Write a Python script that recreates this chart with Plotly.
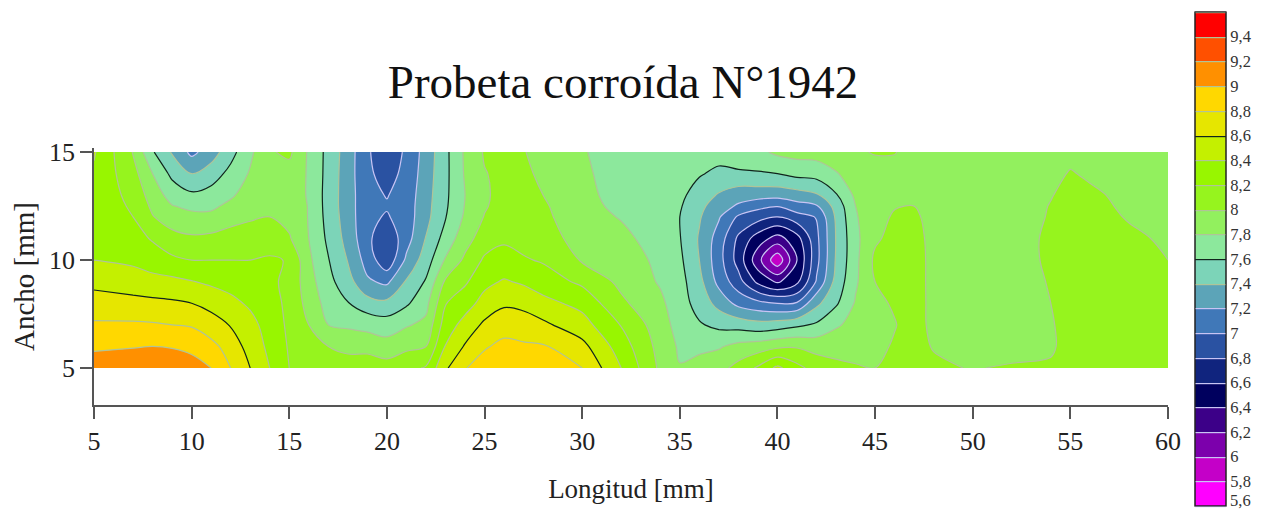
import numpy as np
import plotly.graph_objects as go

title_text = "Probeta corroída N°1942"
x_title = "Longitud [mm]"
y_title = "Ancho [mm]"
levels_cb = [round(5.6 + 0.2 * i, 1) for i in range(20)]
band_colors = ["#ff00ff", "#c400c8", "#7c00ac", "#3c0088", "#00005e", "#10247e", "#2a52a2", "#4078b8", "#5ca4b8", "#7cd4b8",
               "#8ce89c", "#92f05e", "#96f41e", "#98f600", "#c4f000", "#e6e600", "#ffd800", "#ff9000", "#ff5000", "#ff0000"]
line_light = "#c8c4f4"
line_gray = "#b0c498"
line_black = "#10241c"
black_levels = [7.6, 8.6]
light_top = 7.2

y_mm = [5, 6, 7, 8, 9, 10, 11, 12, 12.5, 13, 14, 15]
x_mm = [5, 7, 8, 9, 10, 11, 12, 13, 14, 15, 16, 17, 18, 19, 20, 21, 22, 23, 24, 25, 26, 27, 28, 30, 32, 34,
        35, 36, 37, 38, 39, 40, 41, 42, 43, 44, 45, 46, 47, 48, 50, 52, 54, 55, 56, 58, 60]
z_columns = [
    [9.1, 8.97, 8.83, 8.68, 8.55, 8.4, 8.36, 8.34, 8.34, 8.34, 8.37, 8.42],
    [9.12, 8.99, 8.83, 8.66, 8.5, 8.36, 8.28, 8.2, 8.17, 8.14, 8.07, 7.99],
    [9.13, 9.0, 8.82, 8.65, 8.46, 8.31, 8.18, 8.01, 7.96, 7.91, 7.8, 7.62],
    [9.1, 8.99, 8.8, 8.63, 8.45, 8.24, 8.07, 7.9, 7.81, 7.72, 7.55, 7.38],
    [9.05, 8.97, 8.78, 8.6, 8.41, 8.2, 8.03, 7.86, 7.75, 7.64, 7.4, 7.15],
    [9.0, 8.87, 8.67, 8.55, 8.36, 8.2, 8.05, 7.85, 7.76, 7.68, 7.5, 7.3],
    [8.8, 8.7, 8.59, 8.45, 8.33, 8.2, 8.08, 7.93, 7.85, 7.77, 7.66, 7.53],
    [8.6, 8.53, 8.46, 8.37, 8.28, 8.2, 8.08, 7.98, 7.94, 7.9, 7.82, 7.76],
    [8.4, 8.35, 8.32, 8.28, 8.24, 8.22, 8.12, 8.0, 7.97, 7.94, 7.92, 7.98],
    [8.2, 8.18, 8.16, 8.15, 8.15, 8.19, 8.02, 7.94, 7.92, 7.91, 7.92, 8.04],
    [8.15, 8.08, 8.0, 7.93, 7.88, 7.84, 7.8, 7.79, 7.79, 7.78, 7.78, 7.77],
    [8.1, 8.0, 7.8, 7.72, 7.66, 7.61, 7.56, 7.53, 7.52, 7.52, 7.53, 7.54],
    [8.13, 7.93, 7.77, 7.61, 7.48, 7.39, 7.33, 7.3, 7.29, 7.29, 7.29, 7.3],
    [8.15, 7.92, 7.74, 7.48, 7.23, 7.12, 7.05, 7.05, 7.06, 7.06, 7.04, 7.03],
    [8.09, 7.88, 7.7, 7.45, 7.16, 6.85, 6.84, 6.98, 7.02, 6.99, 6.92, 6.85],
    [8.14, 7.96, 7.78, 7.57, 7.42, 7.24, 7.12, 7.1, 7.1, 7.09, 7.06, 7.04],
    [8.22, 8.0, 7.85, 7.74, 7.62, 7.5, 7.41, 7.34, 7.33, 7.32, 7.3, 7.28],
    [8.57, 8.41, 8.3, 8.19, 8.03, 7.82, 7.68, 7.59, 7.57, 7.56, 7.55, 7.55],
    [8.79, 8.62, 8.47, 8.32, 8.17, 8.04, 7.92, 7.83, 7.81, 7.8, 7.82, 7.83],
    [8.89, 8.78, 8.64, 8.47, 8.35, 8.23, 8.1, 8.01, 7.98, 7.97, 7.99, 8.02],
    [8.96, 8.85, 8.72, 8.57, 8.42, 8.27, 8.17, 8.1, 8.08, 8.07, 8.05, 8.05],
    [8.97, 8.83, 8.69, 8.55, 8.37, 8.22, 8.13, 8.08, 8.06, 8.05, 8.03, 8.01],
    [8.95, 8.82, 8.64, 8.46, 8.3, 8.18, 8.1, 8.05, 8.03, 8.0, 7.97, 7.93],
    [8.8, 8.66, 8.48, 8.34, 8.16, 7.98, 7.91, 7.86, 7.84, 7.83, 7.82, 7.81],
    [8.4, 8.3, 8.19, 8.04, 7.95, 7.89, 7.84, 7.79, 7.77, 7.76, 7.75, 7.74],
    [7.96, 7.93, 7.89, 7.84, 7.78, 7.76, 7.73, 7.71, 7.7, 7.7, 7.69, 7.69],
    [7.81, 7.77, 7.72, 7.69, 7.67, 7.64, 7.61, 7.6, 7.62, 7.65, 7.67, 7.68],
    [7.85, 7.77, 7.62, 7.52, 7.46, 7.4, 7.38, 7.42, 7.45, 7.5, 7.62, 7.68],
    [7.93, 7.78, 7.55, 7.33, 7.14, 7.08, 7.11, 7.22, 7.3, 7.38, 7.55, 7.69],
    [8.07, 7.86, 7.52, 7.14, 6.88, 6.72, 6.76, 6.97, 7.17, 7.29, 7.56, 7.76],
    [8.23, 7.9, 7.47, 7.06, 6.55, 6.27, 6.5, 6.88, 7.06, 7.28, 7.58, 7.75],
    [8.45, 7.96, 7.5, 7.0, 6.37, 5.85, 6.32, 6.8, 7.01, 7.27, 7.6, 7.84],
    [8.26, 7.98, 7.56, 7.02, 6.55, 6.4, 6.52, 6.92, 7.12, 7.31, 7.66, 7.87],
    [8.12, 7.93, 7.63, 7.35, 7.02, 6.94, 6.95, 7.01, 7.18, 7.37, 7.68, 7.88],
    [8.07, 7.9, 7.78, 7.57, 7.47, 7.42, 7.41, 7.43, 7.47, 7.58, 7.78, 7.95],
    [8.02, 7.92, 7.85, 7.82, 7.77, 7.75, 7.75, 7.78, 7.8, 7.84, 7.92, 7.98],
    [8.0, 7.95, 7.93, 7.96, 8.0, 8.04, 7.97, 7.94, 7.93, 7.92, 7.94, 8.01],
    [8.03, 8.02, 7.99, 8.02, 8.06, 8.08, 8.06, 8.02, 7.99, 7.96, 7.92, 8.01],
    [8.06, 8.05, 8.08, 8.09, 8.1, 8.1, 8.08, 8.04, 8.0, 7.96, 7.92, 7.92],
    [8.03, 7.99, 7.95, 7.94, 7.93, 7.93, 7.93, 7.92, 7.91, 7.91, 7.9, 7.9],
    [7.99, 7.92, 7.9, 7.88, 7.87, 7.87, 7.87, 7.87, 7.87, 7.87, 7.87, 7.87],
    [8.02, 7.93, 7.9, 7.88, 7.87, 7.87, 7.88, 7.88, 7.88, 7.88, 7.88, 7.88],
    [8.03, 7.97, 7.98, 8.0, 8.02, 8.05, 8.05, 8.02, 8.01, 7.99, 7.92, 7.88],
    [8.09, 8.08, 8.08, 8.08, 8.08, 8.1, 8.1, 8.08, 8.07, 8.06, 8.02, 7.92],
    [8.1, 8.1, 8.1, 8.1, 8.1, 8.12, 8.12, 8.1, 8.08, 8.05, 7.96, 7.9],
    [8.12, 8.12, 8.12, 8.12, 8.12, 8.1, 8.05, 7.98, 7.95, 7.93, 7.9, 7.88],
    [8.12, 8.12, 8.12, 8.1, 8.05, 8.0, 7.96, 7.93, 7.92, 7.91, 7.88, 7.86],
]
z = np.array(z_columns).T

serif = "Liberation Serif"
z_lo, z_hi = 5.6, 9.6
n = len(band_colors)
fill_scale = []
for i, c in enumerate(band_colors):
    fill_scale.append([i / n, c])
    fill_scale.append([(i + 1) / n, c])

line_scale = []
for i in range(n + 1):
    v = round(z_lo + 0.2 * i, 1)
    c = line_black if v in black_levels else (line_light if v <= light_top else line_gray)
    a, b = max(0, (i - 0.5) / n), min(1, (i + 0.5) / n)
    line_scale.append([a, c])
    line_scale.append([b, c])

bar_common = dict(x=(1195 - 94) / 1074, xanchor="left", y=(405 - 506) / 257, yanchor="bottom",
                  lenmode="pixels", len=494, thicknessmode="pixels", thickness=31,
                  xpad=0, ypad=0, outlinecolor="#222", outlinewidth=1, ticks="")

fig = go.Figure()
fig.add_trace(go.Contour(
    x=x_mm, y=y_mm, z=z, zmin=z_lo, zmax=z_hi, colorscale=fill_scale,
    contours=dict(coloring="fill", start=z_lo, end=z_hi, size=0.2),
    line=dict(width=0, smoothing=1.0),
    colorbar=dict(**bar_common, tickmode="array", tickvals=levels_cb[1:],
                  ticktext=[f"{v:g}".replace(".", ",") for v in levels_cb[1:]],
                  tickfont=dict(family=serif, size=16.5, color="#333")),
    hoverinfo="skip", showlegend=False,
))
fig.add_trace(go.Contour(
    x=x_mm, y=y_mm, z=z, zmin=z_lo, zmax=z_hi, colorscale=line_scale,
    contours=dict(coloring="lines", start=z_lo, end=z_hi, size=0.2),
    line=dict(width=1.2, smoothing=1.0),
    colorbar=dict(**bar_common, showticklabels=False),
    hoverinfo="skip", showlegend=False,
))

axis_style = dict(showgrid=False, zeroline=False, showline=True, linecolor="#555", linewidth=1.5,
                  ticks="outside", tickcolor="#555", tickwidth=1.5,
                  tickfont=dict(family=serif, size=26, color="#222"))
fig.update_layout(
    width=1272, height=511, autosize=False, paper_bgcolor="white", plot_bgcolor="white", showlegend=False,
    margin=dict(l=94, r=104, t=148, b=106, autoexpand=False), separators=",.",
    title=dict(text=title_text, x=623 / 1272, xanchor="center", y=1 - 82 / 511, yanchor="middle",
               font=dict(family=serif, size=47, color="#111")),
    annotations=[dict(text="5,6", xref="paper", yref="paper", x=(1228 - 94) / 1074, y=(405 - 500) / 257,
                      xanchor="left", yanchor="middle", showarrow=False,
                      font=dict(family=serif, size=16.5, color="#333"))],
)
fig.update_xaxes(range=[5, 60], tickvals=list(range(5, 61, 5)), ticklen=12, **axis_style,
                 title=dict(text=x_title, standoff=24, font=dict(family=serif, size=27, color="#222")))
fig.update_yaxes(range=[3.29, 15.19], tickvals=[5, 10, 15], ticklen=12, **axis_style,
                 title=dict(text=y_title, standoff=6, font=dict(family=serif, size=29, color="#222")))

fig.write_html("out.html", config=dict(displayModeBar=False), post_script="document.body.style.margin='0';")
